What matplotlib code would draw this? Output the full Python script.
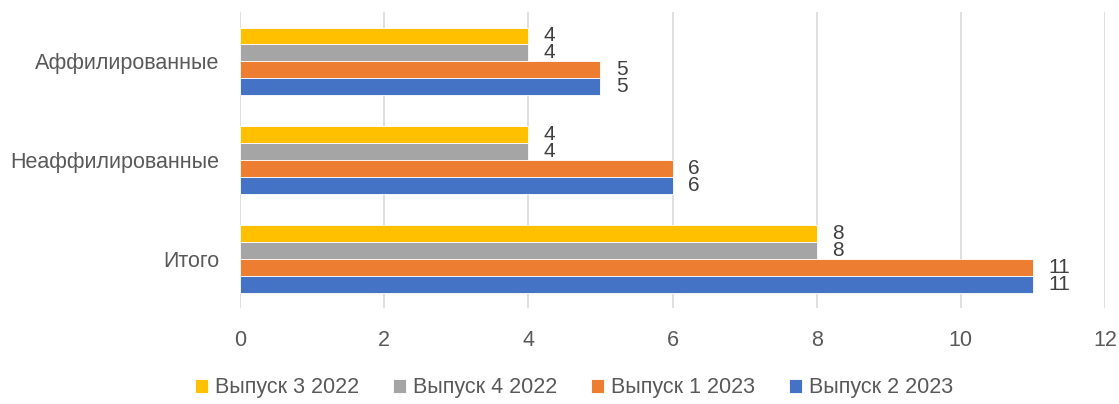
import matplotlib
matplotlib.use('Agg')
import matplotlib.pyplot as plt
import numpy as np

# data (bottom to top on the chart)
categories = ['Итого', 'Неаффилированные', 'Аффилированные']
series_names = ['Выпуск 3 2022', 'Выпуск 4 2022', 'Выпуск 1 2023', 'Выпуск 2 2023']
vyp3_2022 = [8, 4, 4]
vyp4_2022 = [8, 4, 4]
vyp1_2023 = [11, 6, 5]
vyp2_2023 = [11, 6, 5]
x_ticks = [0, 2, 4, 6, 8, 10, 12]

colors = ['#FFC000', '#A5A5A5', '#ED7D31', '#4472C4']
text_color = '#595959'

plt.rcParams['font.family'] = ['Liberation Sans', 'DejaVu Sans']

fig = plt.figure(figsize=(11.19, 4.04), dpi=100)
ax = fig.add_axes([0.2145, 0.2376, 0.773, 0.7324])

bar_h = 0.172
y = np.arange(len(categories))
all_series = [vyp3_2022, vyp4_2022, vyp1_2023, vyp2_2023]
# top-to-bottom order inside a group: yellow, gray, orange, blue
offsets = [1.5, 0.5, -0.5, -1.5]
handles = []
for vals, name, col, off in zip(all_series, series_names, colors, offsets):
    pos = y + off * bar_h
    b = ax.barh(pos, vals, height=bar_h, color=col, edgecolor='white',
                linewidth=0.6, label=name, zorder=3)
    handles.append(b)
    for p, v in zip(pos, vals):
        ax.annotate(str(v), (v, p), xytext=(11, 0), textcoords='offset points',
                    ha='left', va='center', fontsize=15, color='#404040')

ax.set_xlim(0, 12)
ax.set_ylim(-0.5, 2.5)
ax.set_xticks(x_ticks)
ax.set_yticks(y)
ax.set_yticklabels(categories)
ax.tick_params(axis='both', length=0, labelsize=15.5, labelcolor=text_color)
ax.tick_params(axis='x', pad=16)
ax.tick_params(axis='y', pad=15)
ax.grid(axis='x', color='#D9D9D9', linewidth=1.2, zorder=0)
for s in ax.spines.values():
    s.set_visible(False)

fig.legend(handles=handles, labels=series_names, loc='center',
           bbox_to_anchor=(0.513, 0.04), ncol=4, frameon=False, fontsize=15.5,
           labelcolor=text_color, handlelength=0.6, handleheight=0.6,
           handletextpad=0.3, columnspacing=1.6)

fig.savefig('out.png', dpi=100)
